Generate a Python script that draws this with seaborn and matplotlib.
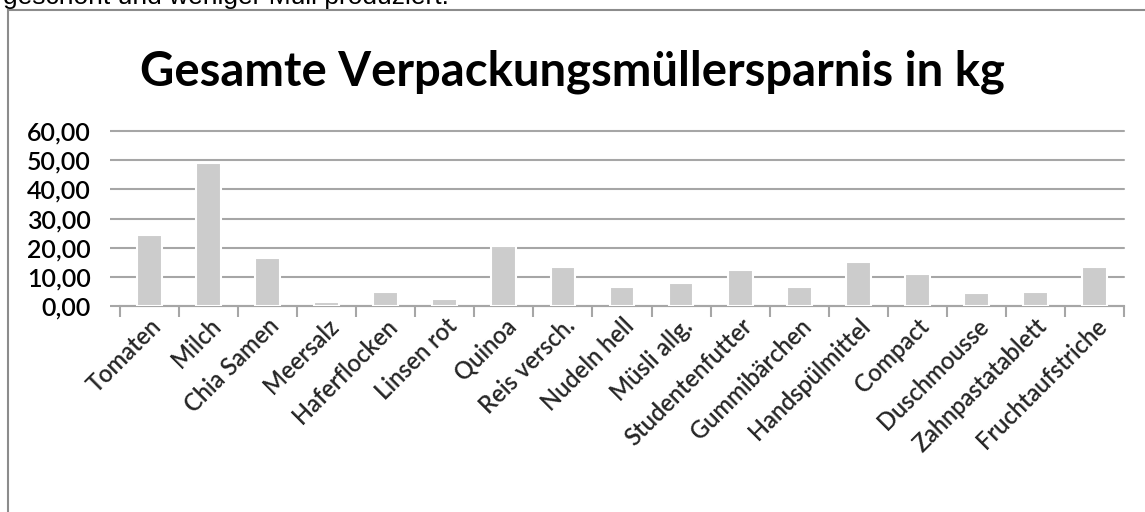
import matplotlib

matplotlib.use("Agg")
import matplotlib.patches as mpatches
import matplotlib.pyplot as plt
import matplotlib.ticker as ticker
import numpy as np
import pandas as pd
import seaborn as sns

# --- Data ---
products = [
    "Tomaten", "Milch", "Chia Samen", "Meersalz", "Haferflocken", "Linsen rot",
    "Quinoa", "Reis versch.", "Nudeln hell", "Müsli allg.", "Studentenfutter",
    "Gummibärchen", "Handspülmittel", "Compact", "Duschmousse",
    "Zahnpastatablett", "Fruchtaufstriche",
]
savings_kg = [
    24.5, 48.9, 16.5, 1.4, 4.9, 2.4, 20.6, 13.4, 6.5, 8.0, 12.3,
    6.5, 15.0, 11.1, 4.3, 4.8, 13.4,
]
y_ticks = [0, 10, 20, 30, 40, 50, 60]

title = "Gesamte Verpackungsmüllersparnis in kg"
caption = "geschont und weniger Müll produziert."

df = pd.DataFrame({"Produkt": products, "kg": savings_kg})

sns.set_theme(style="white")
plt.rcParams["font.family"] = ["Lato", "DejaVu Sans"]

fig = plt.figure(figsize=(11.45, 5.12), dpi=100)
ax = fig.add_axes([120 / 1145, 1 - 306 / 512, (1124 - 120) / 1145, 175 / 512])

sns.barplot(
    data=df,
    x="Produkt",
    y="kg",
    color="#cccccc",
    saturation=1,
    width=0.42,
    edgecolor="white",
    linewidth=1.5,
    zorder=3,
    ax=ax,
)

ax.set_xlim(-0.5, len(products) - 0.5)
ax.set_ylim(0, 60)
ax.set_yticks(y_ticks)
ax.yaxis.set_major_formatter(
    ticker.FuncFormatter(lambda v, p: f"{v:.2f}".replace(".", ","))
)
ax.yaxis.grid(True, color="#a6a6a6", linewidth=1.5, zorder=0)
for gl in ax.get_ygridlines():
    gl.set_clip_on(False)
ax.set_axisbelow(True)

for side in ["top", "right", "left"]:
    ax.spines[side].set_visible(False)
ax.spines["bottom"].set_color("#a6a6a6")
ax.spines["bottom"].set_linewidth(1.5)

ax.tick_params(axis="y", length=7, width=1.5, color="#a6a6a6",
               labelsize=18, pad=14, labelcolor="black", left=True)
ax.set_xticks(np.arange(-0.5, len(products), 1.0), minor=True)
ax.tick_params(axis="x", which="minor", length=8, width=1.5,
               color="#a6a6a6", bottom=True)
ax.tick_params(axis="x", which="major", length=0, labelsize=17, pad=6)
plt.setp(ax.get_xticklabels(), rotation=45, ha="right",
         rotation_mode="anchor", fontweight="semibold")
plt.setp(ax.get_yticklabels(), fontweight="semibold")

ax.set_xlabel("")
ax.set_ylabel("")

fig.text(0.5, 1 - 72 / 512, title, ha="center", va="center",
         fontsize=34, fontweight="bold", color="black")

# outer chart frame, cut off on the right and bottom
frame = mpatches.Rectangle(
    (8 / 1145, -0.05), 1.1, 1 - 10 / 512 + 0.05,
    transform=fig.transFigure, fill=False, edgecolor="#8c8c8c",
    linewidth=1.5,
)
fig.patches.append(frame)

fig.text(3 / 1145, 1 - 4 / 512, caption, ha="left", va="baseline",
         fontsize=19, color="black",
         family=["Liberation Sans", "DejaVu Sans"])

plt.savefig("out.png", dpi=100)
